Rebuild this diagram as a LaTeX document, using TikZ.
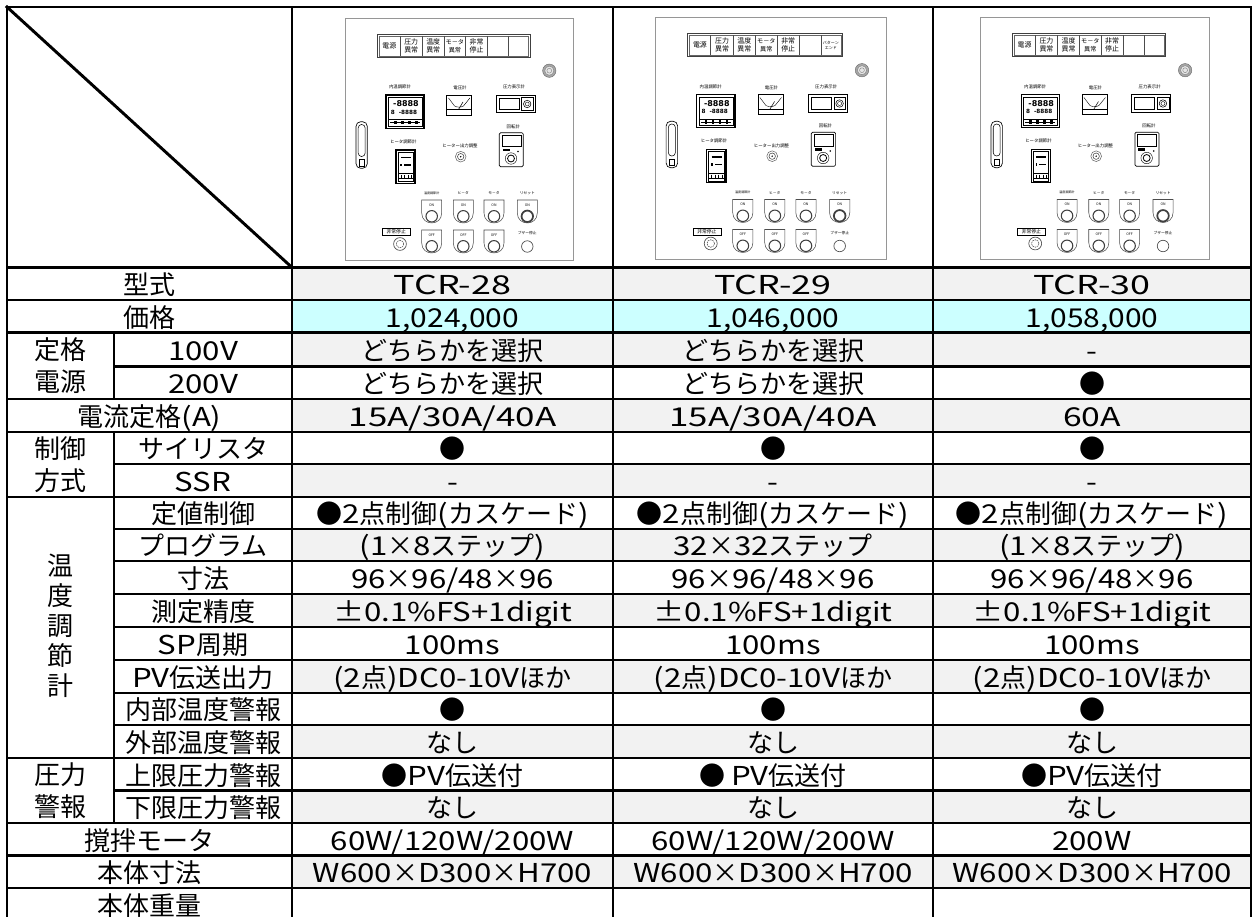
\documentclass[tikz,border=0pt]{standalone}
\usepackage{fontspec}
\setmainfont{Noto Sans CJK JP}
\newfontfamily\latf[FakeStretch=1.2]{Noto Sans CJK JP}
\newfontfamily\digf{DejaVu Sans}
\newcommand\latn[1]{{\latf #1}}
\newcommand\latw[2]{\scalebox{#1}[1]{\latf #2}}
\definecolor{cellgray}{RGB}{242,242,242}
\definecolor{cellcyan}{RGB}{204,255,255}
\definecolor{panelgray}{RGB}{150,150,150}
\tikzset{
 grid/.style={line width=2.2pt, line cap=rect},
 cell/.style={inner sep=0pt, anchor=center, text height=16.5pt, text depth=0.2pt, font=\fontsize{19.5}{24}\selectfont},
 grp/.style={inner sep=0pt, anchor=center, align=center, font=\fontsize{19.5}{24}\selectfont},
 pline/.style={draw=panelgray, line width=0.6pt},
 ptxt/.style={inner sep=0pt, align=center, font=\fontsize{5.2}{6}\selectfont},
 plab/.style={inner sep=0pt, font=\fontsize{3.3}{3.5}\selectfont},
 blab/.style={inner sep=0pt, font=\fontsize{2.8}{3}\selectfont},
 btxt/.style={inner sep=0pt, font=\fontsize{2.6}{3}\selectfont},
 dig/.style={inner sep=0pt, font=\digf\bfseries\fontsize{6}{6}\selectfont},
}
\newcommand\mCtl{●\latn{2}点制御\latn{(}カスケード\latn{)}}
\newcommand\mDims{\latn{96}×\latn{96/48}×\latn{96}}
\newcommand\mAcc{\latn{±0.1\%FS+1digit}}
\newcommand\mPv{\latn{(2}点\latn{)DC0-10V}ほか}
\newcommand\mBody{\latn{W600}×\latn{D300}×\latn{H700}}
\newcommand\mProg{\latn{(1}×\latn{8}ステップ\latn{)}}
\newcommand\mAmp{\latw{1.12}{15A/30A/40A}}
\newcommand\drow[9]{%
  \fill[#4] (292,#2) rectangle (1251,#3);
  \node[cell] (lab-#1) at (#5,{(#2+#3)/2}) {#6};
  \node[cell] (c1-#1) at (452.5,{(#2+#3)/2}) {#7};
  \node[cell] (c2-#1) at (773,{(#2+#3)/2}) {#8};
  \node[cell] (c3-#1) at (1092,{(#2+#3)/2}) {#9};
}
\newcommand\pbtn[5]{%
  \draw[draw=black!70, line width=0.4pt] (#2-10,#3) -- (#2+10,#3) -- (#2+10,#3+13) .. controls (#2+10,#3+26.3) and (#2-10,#3+26.3) .. (#2-10,#3+13) -- cycle;
  \node[btxt] (#1) at (#2,#3+5) {#4};
  \draw[draw=black!75, line width=#5] (#2,#3+16.3) circle (4.3pt);
}
\newcommand\panel[5]{%
\begin{scope}[shift={(#2,#3)},xscale=#4]
 \fill[white] (0,0) rectangle (228,242);
 \draw[pline] (0,0) rectangle (228,242);
 % annunciator strip
 \draw[draw=black!75, line width=0.5pt] (32.3,16.3) rectangle (185,39.3);
 \draw[draw=black!60, line width=0.3pt] (33.8,17.8) rectangle (183.5,37.8);
 \foreach \x in {55,77.3,99,120.7,142.3,163.7}{\draw[draw=black!70, line width=0.4pt] (\x,17.8) -- (\x,37.8);}
 \node[ptxt] (#1-a1) at (44.4,27.8) {電源};
 \node[ptxt] (#1-a2) at (66.2,27.8) {圧力\\異常};
 \node[ptxt] (#1-a3) at (88.2,27.8) {温度\\異常};
 \node[ptxt, font=\fontsize{4.6}{6}\selectfont] (#1-a4) at (109.9,27.8) {モ－タ\\異常};
 \node[ptxt] (#1-a5) at (131.5,27.8) {非常\\停止};
 \node[ptxt, font=\fontsize{3}{4}\selectfont] (#1-a7) at (173.6,27.8) {#5};
 % buzzer
 \draw[fill=black!35, draw=black!60, line width=0.3pt] (204.3,52.7) circle (5pt);
 \draw[fill=black!10, draw=black!50, line width=0.3pt] (204.3,52.7) circle (3.4pt);
 \draw[draw=black!50, line width=0.3pt] (204.3,52.7) circle (1.8pt);
 % labels
 \node[plab] (#1-l1) at (55,69.3) {内温調節計};
 \node[plab] (#1-l2) at (115,70.3) {電圧計};
 \node[plab] (#1-l3) at (169,69.3) {圧力表示計};
 \node[plab] (#1-l4) at (58.3,123.7) {ヒータ調節計};
 \node[plab] (#1-l5) at (115,128) {ヒーター出力調整};
 \node[plab] (#1-l6) at (168.3,108.7) {回転計};
 % inner temperature controller
 \draw[line width=0.9pt] (41,77) rectangle (79,110.3);
 \draw[line width=0.3pt] (43.3,79.3) rectangle (76.7,108);
 \node[dig] (#1-d1) at (61,86) {-8888};
 \node[dig, font=\digf\bfseries\fontsize{4.3}{4.5}\selectfont] (#1-d2) at (59,94) {8\ \ -8888};
 \draw[line width=0.3pt] (43.3,101.5) -- (76.7,101.5);
 \draw[line width=0.5pt] (45,104.5) -- (75,104.5);
 \foreach \x in {49,56,63,70}{\fill (\x,102.5) rectangle (\x+2.5,106);}
 % voltmeter
 \draw[line width=0.5pt] (101.7,77) rectangle (126.7,97);
 \draw[line width=0.3pt] (103.5,80) -- (109.5,88) .. controls (112,89.5) and (116,89.5) .. (118.5,88) -- (124.9,80);
 \draw[line width=0.3pt] (101.7,91.5) -- (126.7,91.5);
 \draw[line width=0.4pt] (113.5,91.5) -- (118,84);
 % pressure display
 \draw[line width=0.7pt] (151,77) rectangle (190,94.7);
 \draw[line width=0.5pt] (154,80) rectangle (174,91.7);
 \draw[line width=0.3pt] (176.5,79.5) rectangle (188,92.2);
 \draw[line width=0.4pt] (182.2,86) circle (2.8pt);
 \draw[line width=0.3pt] (182.2,86) circle (1.5pt);
 % door handle
 \draw[line width=0.5pt, rounded corners=3.5pt] (11,103.7) rectangle (22.3,150.3);
 \draw[line width=0.4pt, rounded corners=2.5pt] (13.2,106.5) rectangle (20.1,138.5);
 \draw[line width=0.4pt] (14,141.5) rectangle (19.3,148);
 % heater controller
 \draw[line width=0.9pt] (51,132) rectangle (70,165.3);
 \draw[line width=0.3pt] (53,134) rectangle (68,163.3);
 \draw[line width=1.4pt] (56,139.5) -- (66,139.5);
 \draw[line width=1.4pt] (59,147) -- (66,147);
 \fill (55.3,145.7) rectangle (56.8,148.3);
 \draw[line width=0.3pt] (53,155.5) -- (68,155.5);
 \foreach \x in {56,59.5,63,66.5}{\draw[line width=0.7pt] (\x,157) -- (\x,160.5);}
 \draw[line width=0.6pt] (53,160.5) -- (68,160.5);
 % heater output knob
 \draw[draw=black!60, line width=0.4pt] (115.7,138.7) circle (4pt);
 \draw[draw=black!75, line width=0.4pt] (115.7,138.7) circle (2.4pt);
 \fill (115.7,138.7) circle (0.6pt);
 % tachometer
 \draw[line width=0.5pt, rounded corners=1pt] (154.3,114.7) rectangle (178.3,148.7);
 \draw[line width=0.4pt] (156.8,117) rectangle (175.8,128.3);
 \fill (157.5,130.8) rectangle (164.5,133.3);
 \fill (173,133.5) circle (0.6pt);
 \draw[line width=0.3pt] (166,140.5) circle (4.3pt);
 \draw[line width=0.6pt] (166,140.5) circle (2.6pt);
 % push buttons
 \node[blab, font=\fontsize{2.3}{3}\selectfont] (#1-b1) at (86.7,175.3) {温度調節計};
 \node[blab] (#1-b2) at (118.3,175.3) {ヒ－タ};
 \node[blab] (#1-b3) at (149,175.3) {モ－タ};
 \node[blab] (#1-b4) at (182.3,175.3) {リセット};
 \pbtn{#1-on1}{86.7}{182}{ON}{0.8pt}
 \pbtn{#1-on2}{118.3}{182}{ON}{0.8pt}
 \pbtn{#1-on3}{149}{182}{ON}{0.8pt}
 \pbtn{#1-on4}{182.3}{182}{ON}{1.3pt}
 \pbtn{#1-off1}{86.7}{212}{OFF}{0.8pt}
 \pbtn{#1-off2}{118.3}{212}{OFF}{0.8pt}
 \pbtn{#1-off3}{149}{212}{OFF}{0.8pt}
 % emergency stop
 \draw[line width=0.4pt] (37.3,210.3) rectangle (65,217.5);
 \node[inner sep=0pt, font=\fontsize{3.6}{4}\selectfont] (#1-es) at (51.2,213.9) {非常停止};
 \draw[draw=black!70, line width=0.5pt] (55,226) circle (4.8pt);
 \draw[draw=black!70, line width=0.4pt, dash pattern=on 1.2pt off 0.6pt] (55,226) circle (2.8pt);
 % buzzer stop
 \node[blab] (#1-bz) at (182.3,215.5) {ブザー停止};
 \draw[draw=black!70, line width=0.5pt] (182.3,228.5) circle (4.3pt);
\end{scope}}
\begin{document}
\begin{tikzpicture}[x=0.75pt,y=-0.75pt]
\useasboundingbox (0,0) rectangle (1253,917);
\clip (0,0) rectangle (1253,917);
\fill[white] (0,0) rectangle (1253,917);
% panels
\panel{p1}{345}{18}{1}{}
\panel{p2}{655}{17.5}{1.013}{パターン\\エンド}
\panel{p3}{980}{17.5}{1.004}{}
% rows
\drow{kata}{267.5}{300}{cellgray}{149.5}{型式}{\latw{1.15}{TCR-28}}{\latw{1.15}{TCR-29}}{\latw{1.15}{TCR-30}}
\drow{price}{300}{332.3}{cellcyan}{149.5}{価格}{\latw{0.96}{1,024,000}}{\latw{0.96}{1,046,000}}{\latw{0.96}{1,058,000}}
\drow{v100}{332.3}{366.5}{cellgray}{203}{\latn{100V}}{どちらかを選択}{どちらかを選択}{\latn{-}}
\drow{v200}{366.5}{399}{white}{203}{\latn{200V}}{どちらかを選択}{どちらかを選択}{●}
\drow{amp}{399}{432}{cellgray}{149.5}{電流定格\latn{(A)}}{\mAmp}{\mAmp}{\latw{1.08}{60A}}
\drow{thy}{432}{464}{white}{203}{サイリスタ}{●}{●}{●}
\drow{ssr}{464}{497}{cellgray}{203}{\latn{SSR}}{\latn{-}}{\latn{-}}{\latn{-}}
\drow{const}{497}{529}{white}{203}{定値制御}{\mCtl}{\mCtl}{\mCtl}
\drow{prog}{529}{561}{cellgray}{203}{プログラム}{\mProg}{\latn{32}×\latn{32}ステップ}{\mProg}
\drow{size}{561}{594}{white}{203}{寸法}{\mDims}{\mDims}{\mDims}
\drow{acc}{594}{627}{cellgray}{203}{測定精度}{\mAcc}{\mAcc}{\mAcc}
\drow{sp}{627}{660}{white}{203}{\latn{SP}周期}{\latn{100ms}}{\latn{100ms}}{\latn{100ms}}
\drow{pv}{660}{693}{cellgray}{203}{\latn{PV}伝送出力}{\mPv}{\mPv}{\mPv}
\drow{inner}{693}{725}{white}{203}{内部温度警報}{●}{●}{●}
\drow{outer}{725}{758}{cellgray}{203}{外部温度警報}{なし}{なし}{なし}
\drow{hi}{758}{790.5}{white}{203}{上限圧力警報}{●\latn{PV}伝送付}{●\ \latn{PV}伝送付}{●\latn{PV}伝送付}
\drow{lo}{790.5}{823}{cellgray}{203}{下限圧力警報}{なし}{なし}{なし}
\drow{mot}{823}{855.5}{white}{149.5}{撹拌モータ}{\latn{60W/120W/200W}}{\latn{60W/120W/200W}}{\latn{200W}}
\drow{body}{855.5}{888}{cellgray}{149.5}{本体寸法}{\mBody}{\mBody}{\mBody}
\drow{wt}{888}{921}{white}{149.5}{本体重量}{}{}{}
% group labels
\node[grp] (g-power) at (60.5,366) {定格\\電源};
\node[grp] (g-ctrl) at (60.5,465) {制御\\方式};
\node[grp, font=\fontsize{19.5}{22.5}\selectfont] (g-temp) at (60.5,625.5) {温\\度\\調\\節\\計};
\node[grp] (g-press) at (60.5,791) {圧力\\警報};
% grid
\draw[grid] (7,7) rectangle (1251,921);
\foreach \y in {267.5,300,332.3,399,432,497,758,823,855.5,888}{\draw[grid] (7,\y) -- (1251,\y);}
\foreach \y in {366.5,464,529,561,594,627,660,693,725,790.5}{\draw[grid] (114,\y) -- (1251,\y);}
\foreach \x in {292,613,933}{\draw[grid] (\x,7) -- (\x,921);}
\draw[grid] (114,332.3) -- (114,399);
\draw[grid] (114,432) -- (114,823);
\draw[grid] (7,7) -- (292,267.5);
\end{tikzpicture}
\end{document}
